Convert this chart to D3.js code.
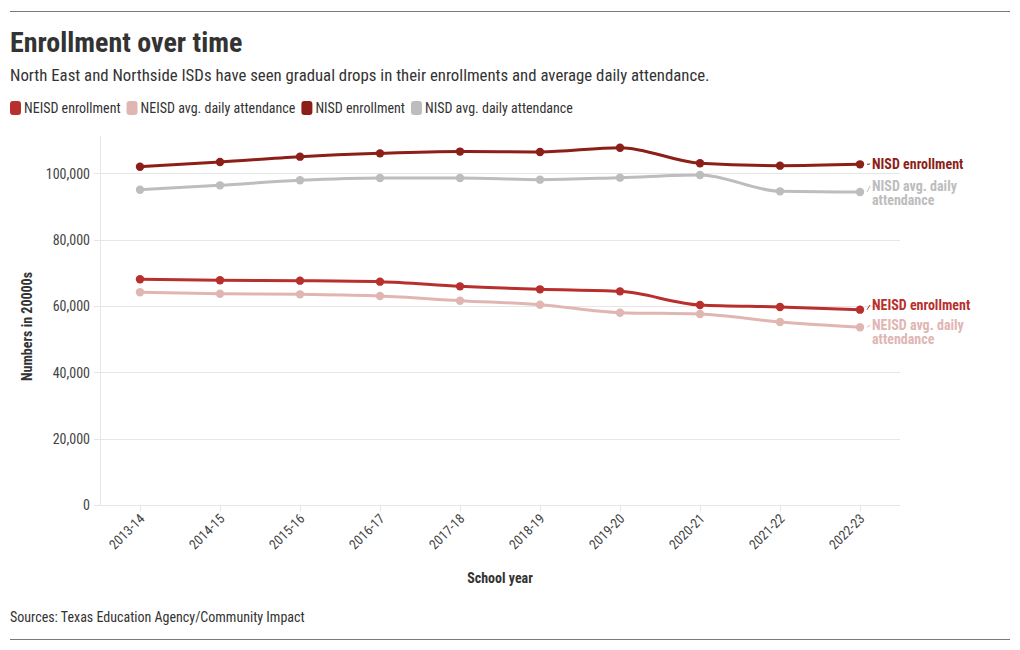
<!DOCTYPE html>
<html><head><meta charset="utf-8">
<script src="https://cdn.jsdelivr.net/npm/d3@7"></script>
<style>
body{margin:0;background:#fff;}
svg, svg text{font-family:"Roboto Condensed","Liberation Sans Narrow","Arial Narrow","DejaVu Sans Condensed",sans-serif;}
</style></head><body>
<svg id="c" width="1020" height="650"></svg>
<script>
const categories = ["2013-14","2014-15","2015-16","2016-17","2017-18","2018-19","2019-20","2020-21","2021-22","2022-23"];
const neisdEnrollment = [68030,67730,67620,67320,65910,65010,64400,60290,59690,58880];
const neisdAttendance = [64110,63700,63500,63000,61590,60380,57970,57570,55160,53560];
const nisdEnrollment  = [101980,103390,105000,106000,106530,106410,107710,103000,102290,102690];
const nisdAttendance  = [95050,96360,97870,98570,98570,98070,98670,99470,94550,94350];
const yTicks = [0,20000,40000,60000,80000,100000];
const seriesNames = ["NEISD enrollment","NEISD avg. daily attendance","NISD enrollment","NISD avg. daily attendance"];
const endLabels = [["NEISD enrollment"],["NEISD avg. daily","attendance"],["NISD enrollment"],["NISD avg. daily","attendance"]];
const colors = ["#b8302d","#e0b6b3","#8c1f18","#bdbdbd"];
const seriesValues = [neisdEnrollment, neisdAttendance, nisdEnrollment, nisdAttendance];

const svg = d3.select("#c");
const pL = 100, pR = 900, pT = 136, pB = 505;

// rules
svg.append("line").attr("x1",10).attr("x2",1010).attr("y1",11.5).attr("y2",11.5).attr("stroke","#7a7a7a").attr("stroke-width",1);
svg.append("line").attr("x1",10).attr("x2",1010).attr("y1",639.5).attr("y2",639.5).attr("stroke","#7a7a7a").attr("stroke-width",1);

svg.append("text").attr("x",10).attr("y",52).text("Enrollment over time")
  .attr("font-size",28).attr("font-weight",700).attr("fill","#333");
svg.append("text").attr("x",10).attr("y",81).text("North East and Northside ISDs have seen gradual drops in their enrollments and average daily attendance.")
  .attr("font-size",16.8).attr("fill","#333");

// legend
let lx = 10;
const leg = svg.append("g");
seriesNames.forEach((n,i)=>{
  const g = leg.append("g").attr("transform",`translate(${lx},0)`);
  g.append("rect").attr("x",0).attr("y",101).attr("width",11).attr("height",14).attr("rx",3).attr("fill",colors[i]);
  const t = g.append("text").attr("x",14).attr("y",113).text(n).attr("font-size",14).attr("fill","#333");
  lx += 14 + t.node().getComputedTextLength() + 6;
});

const x = d3.scalePoint().domain(categories).range([pL,pR]).padding(0.5);
const y = d3.scaleLinear().domain([0,111230]).range([pB,pT]);

// grid
const grid = svg.append("g");
yTicks.forEach(t=>{
  grid.append("line").attr("x1",pL-6).attr("x2",pR).attr("y1",Math.round(y(t))+0.5).attr("y2",Math.round(y(t))+0.5)
    .attr("stroke", "#e6e6e6").attr("stroke-width",1);
});
svg.append("line").attr("x1",pL+0.5).attr("x2",pL+0.5).attr("y1",pT).attr("y2",pB).attr("stroke","#e6e6e6");

// y axis labels
const yAxis = svg.append("g").attr("transform",`translate(${pL-6},0)`)
  .call(d3.axisLeft(y).tickValues(yTicks).tickSize(0).tickPadding(4).tickFormat(d3.format(",")))
  .attr("font-family",null).attr("font-size",null);
yAxis.select(".domain").remove();
yAxis.selectAll("text").attr("font-size",14).attr("fill","#444").attr("dy","0.35em");

// x axis
const xAxis = svg.append("g").attr("transform",`translate(0,${Math.round(pB)+0.5})`)
  .call(d3.axisBottom(x).tickSize(6).tickSizeOuter(0))
  .attr("font-family",null).attr("font-size",null);
xAxis.select(".domain").attr("stroke","#e6e6e6").attr("d",`M${pL-6},0H${pR}`);
xAxis.selectAll(".tick line").attr("stroke","#e6e6e6");
xAxis.selectAll("text").attr("font-size",13.5).attr("fill","#444")
  .attr("text-anchor","end").attr("dy",null).attr("y",0)
  .attr("transform","translate(5,14) rotate(-45)");

// axis titles
svg.append("text").attr("transform",`translate(32,${(pT+pB)/2+6}) rotate(-90)`).attr("text-anchor","middle")
  .text("Numbers in 20000s").attr("font-size",14).attr("font-weight",700).attr("fill","#333");
svg.append("text").attr("x",500).attr("y",583).attr("text-anchor","middle")
  .text("School year").attr("font-size",14).attr("font-weight",700).attr("fill","#333");

svg.append("text").attr("x",10).attr("y",622).text("Sources: Texas Education Agency/Community Impact")
  .attr("font-size",14).attr("fill","#333");

// lines
const line = d3.line().x((d,i)=>x(categories[i])).y(d=>y(d)).curve(d3.curveMonotoneX);
const drawOrder = [1,0,3,2];
drawOrder.forEach(si=>{
  const vals = seriesValues[si];
  const g = svg.append("g");
  g.append("path").attr("d",line(vals)).attr("fill","none").attr("stroke",colors[si]).attr("stroke-width",3).attr("stroke-linejoin","round");
  g.selectAll("circle").data(vals).join("circle")
    .attr("cx",(d,i)=>x(categories[i])).attr("cy",d=>y(d)).attr("r",4.2).attr("fill",colors[si]);
});

// end labels
const labelY = [305, 325, 164, 186];
endLabels.forEach((lines,si)=>{
  const vals = seriesValues[si];
  const px = x(categories[categories.length-1]);
  const py = y(vals[vals.length-1]);
  svg.append("line").attr("x1",px+7).attr("x2",px+10).attr("y1",py).attr("y2",labelY[si]).attr("stroke",colors[si]).attr("stroke-width",1);
  lines.forEach((s,k)=>{
    svg.append("text").attr("x",872).attr("y",labelY[si]+5+k*13.5).text(s)
      .attr("font-size",14).attr("font-weight",700).attr("fill",colors[si]);
  });
});
</script>
</body></html>
